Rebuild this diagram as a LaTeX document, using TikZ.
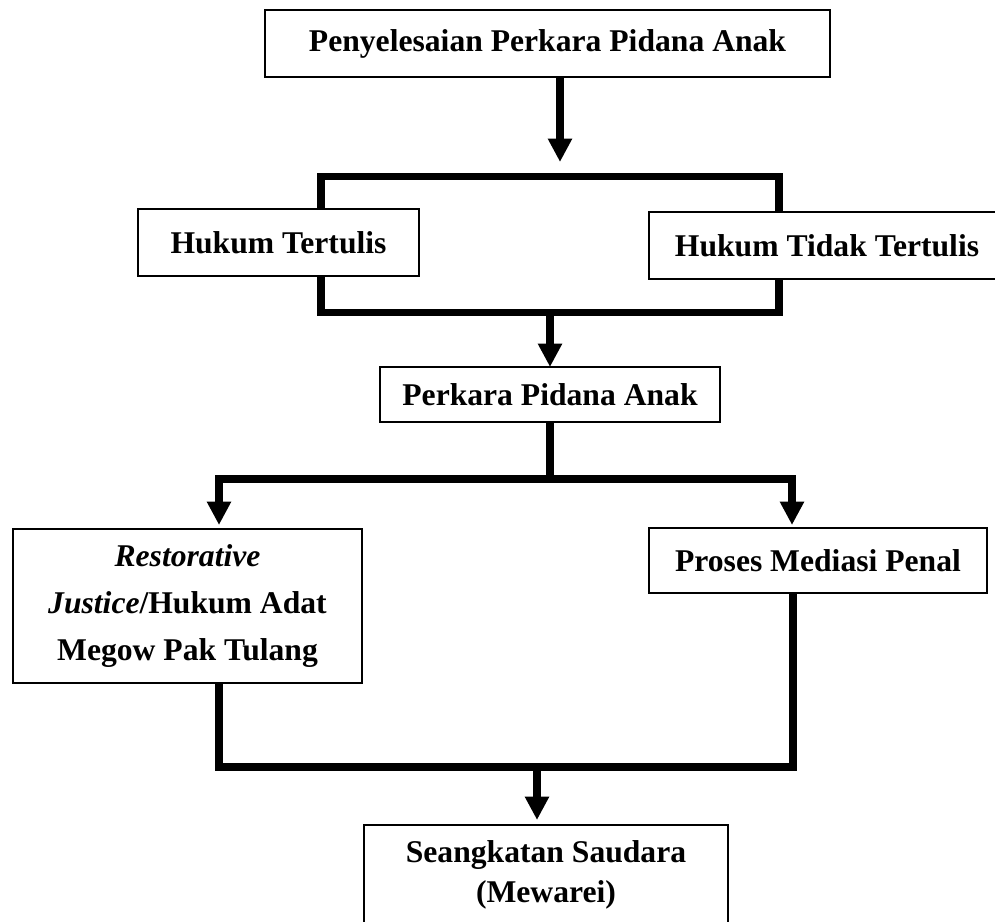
\documentclass[tikz,border=0pt]{standalone}
\usepackage{fontspec}
\setmainfont{Liberation Serif}
\usetikzlibrary{positioning,arrows.meta}
\tikzset{>={Triangle[width=0.46cm,length=0.47cm]},
kotak/.style={draw,line width=0.03cm,fill=white,align=center,inner sep=0pt,outer sep=0pt,font=\bfseries\fontsize{18}{22}\selectfont}, % kotak berisi teks
bingkai/.style={draw,line width=0.15cm,inner sep=0pt,outer sep=0pt}, % garis tebal di belakang kotak
garis/.style={line width=0.15cm},
panah/.style={garis,->},
}

\begin{document}
\begin{tikzpicture}
    \useasboundingbox (0,0) rectangle (19.9,-18.42);
    \node[kotak,minimum width=11.3cm,minimum height=1.34cm] (T) at (10.95,-0.87) {Penyelesaian Perkara Pidana Anak};
    \node[bingkai,minimum width=9.16cm,minimum height=2.72cm,below=1.99cm of T,xshift=0.05cm] (B) {};
    \node[kotak,minimum width=5.62cm,minimum height=1.34cm] (HT) at ([xshift=-0.85cm,yshift=0.04cm]B.west) {Hukum Tertulis};
    \node[kotak,minimum width=7.12cm,minimum height=1.34cm] (HTT) at ([xshift=0.96cm,yshift=-0.02cm]B.east) {Hukum Tidak Tertulis};
    \node[kotak,minimum width=6.8cm,minimum height=1.1cm,below=1.09cm of B] (P) {Perkara Pidana Anak};
    \coordinate[below=1.14cm of P] (cabang);
    \node[kotak,minimum width=6.98cm,minimum height=3.08cm,below left=1cm and 3.76cm of cabang,font=\bfseries\fontsize{18}{26.6}\selectfont] (R) {\textit{Restorative}\\\textit{Justice}/Hukum Adat\\Megow Pak Tulang};
    \node[kotak,minimum width=6.76cm,minimum height=1.3cm,below right=0.98cm and 1.98cm of cabang] (M) {Proses Mediasi Penal};
    \coordinate[below=1.68cm of R.south,xshift=0.63cm] (bawahkiri);
    \node[kotak,minimum width=7.28cm,minimum height=1.98cm,below right=1.16cm and 2.9cm of bawahkiri,font=\bfseries\fontsize{18}{22.8}\selectfont] (S) {Seangkatan Saudara\\(Mewarei)};

    \draw[panah,shorten >=0.29cm] ([xshift=0.25cm]T.south) -- ([xshift=0.25cm]T.south |- B.north);
    \draw[panah] (B.south) -- (P.north);
    \draw[garis] (P) -- (cabang);
    \draw[panah,shorten >=0.08cm] (cabang) -| ([xshift=0.63cm]R.north);
    \draw[panah,shorten >=0.06cm] (cabang) -| ([xshift=-0.52cm]M.north);
    \draw[garis] ([xshift=0.63cm]R.south) -- (bawahkiri) -| ([xshift=-0.5cm]M.south);
    \draw[panah,shorten >=0.1cm] ([xshift=-0.18cm]S.north |- bawahkiri) -- ([xshift=-0.18cm]S.north);
\end{tikzpicture}
\end{document}
